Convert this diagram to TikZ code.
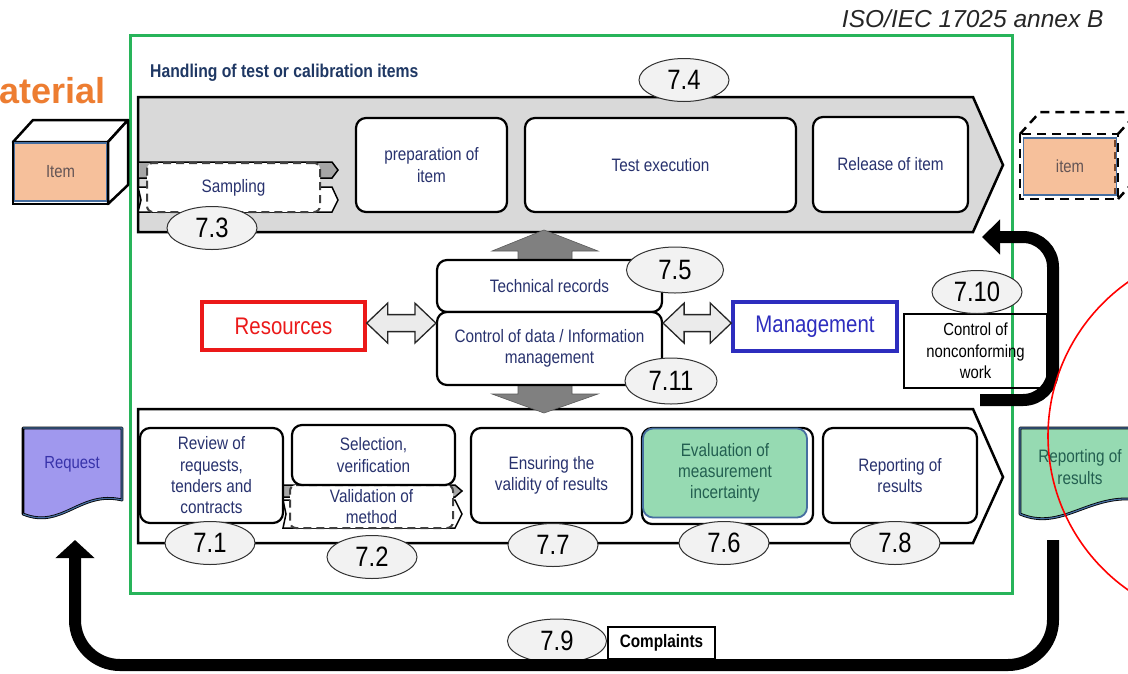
\documentclass[tikz,border=0pt]{standalone}
\usepackage{fontspec}
\setmainfont{Liberation Sans}[FakeStretch=0.85]
\newfontfamily\wideF{Liberation Sans}
\usetikzlibrary{arrows.meta,calc,shapes.geometric}
\definecolor{navy}{RGB}{40,50,110}
\definecolor{hdr}{RGB}{31,56,100}
\definecolor{frameG}{RGB}{40,180,90}
\definecolor{bandG}{RGB}{217,217,217}
\definecolor{ellF}{RGB}{242,242,242}
\definecolor{arrG}{RGB}{128,128,128}
\definecolor{dblF}{RGB}{235,235,235}
\definecolor{resR}{RGB}{235,25,25}
\definecolor{mgmtB}{RGB}{45,45,190}
\definecolor{mint}{RGB}{150,218,178}
\definecolor{mintT}{RGB}{35,95,80}
\definecolor{steel}{RGB}{70,110,160}
\definecolor{lav}{RGB}{160,152,238}
\definecolor{reqT}{RGB}{55,50,170}
\definecolor{peach}{RGB}{246,192,155}
\definecolor{itemT}{RGB}{100,85,85}
\definecolor{orangeT}{RGB}{237,125,49}
\definecolor{brownD}{RGB}{120,70,40}
\newcommand\dblarrow[2]{%
  \path[dbl] let \p1=#1, \p2=#2 in
    (\x1,\y1) -- (\x1+21pt,\y1+20pt) -- (\x1+21pt,\y1+8.5pt) -- (\x2-21pt,\y1+8.5pt)
    -- (\x2-21pt,\y1+20pt) -- (\x2,\y1) -- (\x2-21pt,\y1-20pt) -- (\x2-21pt,\y1-8.5pt)
    -- (\x1+21pt,\y1-8.5pt) -- (\x1+21pt,\y1-20pt) -- cycle;}
\begin{document}
\begin{tikzpicture}[x=1pt,y=-1pt,
  box/.style={draw, line width=2.2pt, rounded corners=10pt, fill=white, text=navy,
    font=\fontsize{18}{21.3}\selectfont, align=center, inner sep=0pt},
  num/.style={ellipse, draw=black!80, line width=1pt, fill=ellF, minimum width=90pt,
    minimum height=43pt, inner sep=0pt, font=\fontsize{28}{28}\selectfont},
  band/.style={draw, line width=2.5pt, line join=miter},
  tab/.style={draw, line width=1.5pt, line join=miter},
  dashbox/.style={draw=black!75, dash pattern=on 8pt off 5pt, line width=2pt,
    rounded corners=6pt, fill=white, text=navy, align=center, inner sep=0pt,
    font=\fontsize{18}{20.5}\selectfont},
  dbl/.style={draw=black!85, line width=1.3pt, fill=dblF, line join=miter},
  garr/.style={fill=arrG, draw=arrG!70!black, line width=0.6pt},
  blk/.style={line width=12pt},
  plain/.style={font=\fontsize{17.5}{21.5}\selectfont, align=center, inner sep=0pt}
]
\useasboundingbox (0,0) rectangle (1128,673);
\fill[white] (0,0) rectangle (1128,673);

% titles
\node[anchor=base east, font=\wideF\itshape\fontsize{24.5}{24.5}\selectfont, text=black!85] (iso) at (1107,27) {ISO/IEC 17025 annex B};
\node[anchor=base west, font=\wideF\bfseries\fontsize{36}{36}\selectfont, text=orangeT, inner sep=0pt] (mat) at (-1,103) {aterial};

% green frame
\draw[frameG, line width=3pt] (130,35) rectangle (1012,593);
\node[anchor=west, font=\bfseries\fontsize{18.5}{20}\selectfont, text=hdr, inner sep=0pt] (hdl) at (150,73) {Handling of test or calibration items};

% banners
\draw[band, fill=bandG] (138,97) -- (973,97) -- (1003,165) -- (973,232) -- (138,232) -- cycle;
\draw[band, fill=white] (138,409) -- (973,409) -- (1003,477) -- (973,543) -- (138,543) -- cycle;

% sampling
\draw[tab, fill=black!35] (138,162) -- (332,162) -- (338,170) -- (332,178) -- (138,178) -- cycle;
\draw[tab, fill=white] (138,187) -- (332,187) -- (338,200) -- (332,212) -- (138,212) -- (141,200) -- cycle;
\node[dashbox, minimum width=173pt, minimum height=49pt] (samp) at (233.5,187.5) {Sampling};

% top boxes
\node[box, minimum width=151pt, minimum height=94pt] (prep) at (431.5,165) {preparation of\\item};
\node[box, minimum width=271pt, minimum height=94pt] (test) at (660.5,165) {Test execution};
\node[box, minimum width=155pt, minimum height=95pt] (rel) at (890.5,164.5) {Release of item};

% middle
\coordinate (upTip) at (544,230);
\coordinate (dnTip) at (544,413);
\path[garr] (upTip) -- ++(54,21) -- ++(-26,0) -- ++(0,11) -- ++(-54,0) -- ++(0,-11) -- ++(-26,0) -- cycle;
\path[garr] (dnTip) -- ++(54,-19) -- ++(-26,0) -- ++(0,-11) -- ++(-54,0) -- ++(0,11) -- ++(-26,0) -- cycle;
\node[box, minimum width=225pt, minimum height=52pt] (tr) at (549.5,286) {Technical records};
\node[box, minimum width=225pt, minimum height=73pt] (data) at (549.5,348.5) {Control of data / Information\\management};

\node[draw=resR, line width=3.5pt, minimum width=163pt, minimum height=48pt, text=resR, font=\fontsize{24}{24}\selectfont] (res) at (283.5,326) {Resources};
\node[draw=mgmtB, line width=3.5pt, minimum width=164pt, minimum height=49pt, text=mgmtB, font=\fontsize{24}{24}\selectfont] (mgmt) at (815,326.5) {Management};

\coordinate (dl1) at ($(res.east|-tr.south)+(0,10)$);
\coordinate (dl2) at ($(data.west|-tr.south)+(0,10)$);
\coordinate (dr1) at ($(data.east|-tr.south)+(0,10)$);
\coordinate (dr2) at ($(mgmt.west|-tr.south)+(0,10)$);
\dblarrow{(dl1)}{(dl2)}
\dblarrow{(dr1)}{(dr2)}

\node[draw, line width=1.2pt, minimum width=143pt, minimum height=74pt, plain, text=black] (ncw) at (975.5,351) {Control of\\nonconforming\\work};

% bottom row
\draw[tab, fill=black!35] (283,485) -- (455,485) -- (462,491) -- (455,497) -- (283,497) -- cycle;
\draw[tab, fill=white] (283,500) -- (455,500) -- (462,514) -- (455,528) -- (283,528) -- (286,514) -- cycle;
\node[dashbox, minimum width=163pt, minimum height=43pt] (val) at (371.5,506.5) {Validation of\\method};
\node[box, minimum width=143pt, minimum height=95pt] (rev) at (211.5,475.5) {Review of\\requests,\\tenders and\\contracts};
\node[box, minimum width=163pt, minimum height=60pt] (sel) at (373.5,455) {Selection,\\verification};
\node[box, minimum width=161pt, minimum height=95pt] (ens) at (551.5,475.5) {Ensuring the\\validity of results};
\node[box, minimum width=171pt, minimum height=96pt] (evalo) at (727.5,476) {};
\node[box, draw=steel, line width=1.8pt, fill=mint, text=mintT, minimum width=164pt, minimum height=89pt] (eval) at (725,473) {Evaluation of\\measurement\\incertainty};
\node[box, minimum width=154pt, minimum height=95pt] (repb) at (900,475.5) {Reporting of\\results};

% numbers
\node[num] (n74) at (684,80) {7.4};
\node[num] (n73) at (212,228) {7.3};
\node[num, minimum width=97pt, minimum height=46pt] (n75) at (675,270) {7.5};
\node[num, minimum width=92pt, minimum height=46pt] (n711) at (671,381) {7.11};
\node[num] (n710) at (977,292) {7.10};
\node[num] (n71) at (210,543) {7.1};
\node[num] (n72) at (372,557) {7.2};
\node[num] (n77) at (553,545) {7.7};
\node[num] (n76) at (724,543) {7.6};
\node[num] (n78) at (895,543) {7.8};
\node[num, minimum width=99pt, minimum height=44pt] (n79) at (557,641) {7.9};
\node[draw, line width=1.2pt, minimum width=107pt, minimum height=32pt, font=\bfseries\fontsize{18}{20}\selectfont] (comp) at (661.5,643) {Complaints};

% left item cube
\draw[line width=2.5pt, fill=white, line join=round] (13,142) -- (33,120) -- (128,120) -- (108,142) -- cycle;
\draw[line width=2.5pt, fill=white, line join=round] (108,142) -- (128,120) -- (128,185) -- (108,204) -- cycle;
\draw[line width=2.5pt] (13,142) rectangle (108,204);
\node[draw=steel, line width=1.8pt, fill=peach, minimum width=92pt, minimum height=58pt, text=itemT, font=\fontsize{17.5}{20}\selectfont] (item1) at (60.5,172) {Item};

% right item cube (dashed)
\begin{scope}[line width=2.5pt, dash pattern=on 9pt off 6pt]
\draw (1020,134) -- (1040,112) -- (1140,112);
\draw (1118,134) -- (1138,112);
\draw (1118,199) -- (1138,177);
\draw (1020,134) rectangle (1118,199);
\end{scope}
\node[draw=steel, line width=1.8pt, fill=peach, minimum width=93pt, minimum height=57pt, text=itemT, font=\fontsize{17.5}{20}\selectfont] (item2) at (1070,166.5) {item};
\draw[brownD, line width=1.8pt, dash pattern=on 7pt off 5pt] (1115,140) -- (1115,194);

% documents
\filldraw[fill=lav, draw=black, line width=2.8pt, line join=round] (23,428) -- (122,428) -- (122,500) .. controls (80,490) and (62,530) .. (23,514) -- cycle;
\draw[steel, line width=1.2pt] (23,428) -- (122,428) -- (122,500) .. controls (80,490) and (62,530) .. (23,514);
\node[text=reqT, font=\fontsize{17.5}{20}\selectfont] (req) at (72,464) {Request};

\filldraw[fill=mint, draw=black, line width=2.8pt, line join=round] (1020,428) -- (1140,428) -- (1140,500) .. controls (1090,492) and (1062,532) .. (1020,514) -- cycle;
\draw[steel, line width=1.2pt] (1140,428) -- (1020,428) -- (1020,514) .. controls (1062,532) and (1090,492) .. (1140,500);
\node[text=mintT, font=\fontsize{18}{21.5}\selectfont, align=center, inner sep=0pt] (repdoc) at (1080,467) {Reporting of\\results};

% black arrows
\coordinate (lb) at (980,400);
\coordinate (tb) at (982,237);
\draw[blk, rounded corners=30pt, -{Triangle[length=18pt,width=34pt]}] (lb) -| ($(tb)+(71,0)$) -- (tb);
\coordinate (rb) at (1053,540);
\coordinate (qb) at (75,540);
\draw[blk, rounded corners=45pt, -{Triangle[length=18pt,width=38pt]}] (rb) -- ($(rb)+(0,125)$) -| (qb);

% red circle
\draw[red, line width=1.6pt] (1236,436) circle [radius=188pt];
\end{tikzpicture}
\end{document}
